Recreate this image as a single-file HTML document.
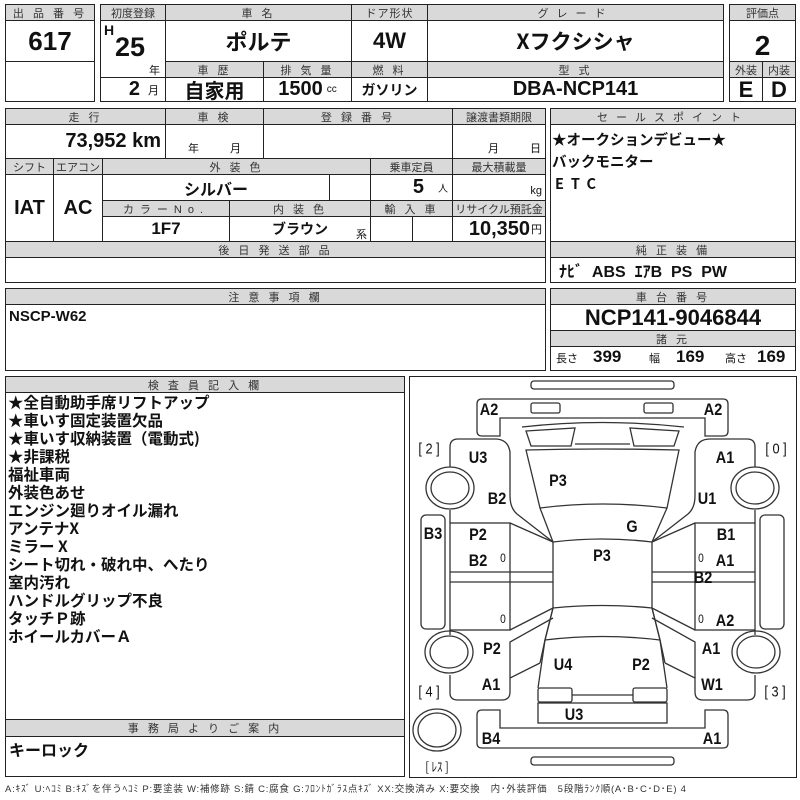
<!DOCTYPE html>
<html><head><meta charset="utf-8">
<style>
body{margin:0;background:#fff;width:800px;height:800px;position:relative;overflow:hidden;font-family:"Liberation Sans","Noto Sans CJK JP",sans-serif;color:#111}
.c{position:absolute;box-sizing:border-box;border:1px solid #222;display:flex;align-items:center;justify-content:center;white-space:nowrap}
.h{background:#d9d9d9;font-size:11px;color:#333;letter-spacing:3px}
.v{font-weight:bold;font-size:20px;font-family:"Liberation Sans Narrow","Liberation Sans","Noto Sans CJK JP",sans-serif}
.t{position:absolute;white-space:nowrap;font-family:"Liberation Sans","Noto Sans CJK JP",sans-serif}
.s{font-size:10px;font-weight:normal;margin-left:4px}
.lab{position:absolute;font-weight:bold;font-size:17px;transform:translate(-50%,-50%) scaleX(0.85);white-space:nowrap;font-family:"Liberation Sans Narrow","Liberation Sans",sans-serif}
.ins{position:absolute;left:8px;font-weight:bold;font-size:15.5px;font-family:"Noto Sans CJK JP",sans-serif;line-height:18px;white-space:nowrap}
</style></head><body>

<div class="c h" style="left:5px;top:4px;width:90px;height:17px">出 品 番 号</div>
<div class="c v" style="left:5px;top:20px;width:90px;height:42px;font-size:26px">617</div>
<div class="c" style="left:5px;top:61px;width:90px;height:41px"></div>

<div class="c h" style="left:100px;top:4px;width:66px;height:17px;letter-spacing:0">初度登録</div>
<div class="c h" style="left:165px;top:4px;width:187px;height:17px">車 名</div>
<div class="c h" style="left:351px;top:4px;width:77px;height:17px;letter-spacing:1px">ドア形状</div>
<div class="c h" style="left:427px;top:4px;width:297px;height:17px;letter-spacing:8px">グレード</div>
<div class="c v" style="left:100px;top:20px;width:66px;height:58px"></div>
<div class="t" style="left:104px;top:22px;font-weight:bold;font-size:14px">H</div>
<div class="t" style="left:115px;top:32px;font-weight:bold;font-size:27px;font-family:'Liberation Sans Narrow','Liberation Sans',sans-serif">25</div>
<div class="t" style="left:149px;top:62px;font-size:11px">年</div>
<div class="c v" style="left:100px;top:77px;width:66px;height:25px;justify-content:flex-end;padding-right:6px">2<span class="s" style="font-size:11px;margin-left:8px">月</span></div>
<div class="c v" style="left:165px;top:20px;width:187px;height:42px;font-family:'Noto Sans CJK JP',sans-serif;font-size:22px">ポルテ</div>
<div class="c v" style="left:351px;top:20px;width:77px;height:42px;font-size:22px">4W</div>
<div class="c v" style="left:427px;top:20px;width:297px;height:42px;font-family:'Noto Sans CJK JP',sans-serif;font-size:21px">Xフクシシャ</div>
<div class="c h" style="left:165px;top:61px;width:99px;height:17px">車 歴</div>
<div class="c h" style="left:263px;top:61px;width:89px;height:17px">排 気 量</div>
<div class="c h" style="left:351px;top:61px;width:77px;height:17px">燃 料</div>
<div class="c h" style="left:427px;top:61px;width:297px;height:17px">型 式</div>
<div class="c v" style="left:165px;top:77px;width:99px;height:25px;font-family:'Noto Sans CJK JP',sans-serif;font-size:20px">自家用</div>
<div class="c v" style="left:263px;top:77px;width:89px;height:25px">1500<span class="s">cc</span></div>
<div class="c v" style="left:351px;top:77px;width:77px;height:25px;font-family:'Noto Sans CJK JP',sans-serif;font-size:14px">ガソリン</div>
<div class="c v" style="left:427px;top:77px;width:297px;height:25px">DBA-NCP141</div>
<div class="c h" style="left:729px;top:4px;width:67px;height:17px;letter-spacing:0">評価点</div>
<div class="c v" style="left:729px;top:20px;width:67px;height:42px;font-size:28px;padding-top:10px">2</div>
<div class="c h" style="left:729px;top:61px;width:34px;height:17px;letter-spacing:0">外装</div>
<div class="c h" style="left:762px;top:61px;width:34px;height:17px;letter-spacing:0">内装</div>
<div class="c v" style="left:729px;top:77px;width:34px;height:25px;font-size:22px">E</div>
<div class="c v" style="left:762px;top:77px;width:34px;height:25px;font-size:22px">D</div>

<div class="c h" style="left:5px;top:108px;width:161px;height:17px">走 行</div>
<div class="c h" style="left:165px;top:108px;width:99px;height:17px">車 検</div>
<div class="c h" style="left:263px;top:108px;width:190px;height:17px">登 録 番 号</div>
<div class="c h" style="left:452px;top:108px;width:94px;height:17px;letter-spacing:0">譲渡書類期限</div>
<div class="c v" style="left:5px;top:124px;width:161px;height:35px;justify-content:flex-end;padding-right:4px">73,952 km</div>
<div class="c" style="left:165px;top:124px;width:99px;height:35px;align-items:flex-end;font-size:11px;padding-bottom:2px;word-spacing:28px">年 月</div>
<div class="c" style="left:263px;top:124px;width:190px;height:35px"></div>
<div class="c" style="left:452px;top:124px;width:94px;height:35px;align-items:flex-end;justify-content:flex-end;font-size:11px;padding:0 4px 2px 0;word-spacing:28px">月 日</div>
<div class="c h" style="left:5px;top:158px;width:49px;height:17px;letter-spacing:0">シフト</div>
<div class="c h" style="left:53px;top:158px;width:50px;height:17px;letter-spacing:0">エアコン</div>
<div class="c h" style="left:102px;top:158px;width:269px;height:17px">外 装 色</div>
<div class="c h" style="left:370px;top:158px;width:83px;height:17px;letter-spacing:0">乗車定員</div>
<div class="c h" style="left:452px;top:158px;width:94px;height:17px;letter-spacing:0">最大積載量</div>
<div class="c v" style="left:5px;top:174px;width:49px;height:68px">IAT</div>
<div class="c v" style="left:53px;top:174px;width:50px;height:68px">AC</div>
<div class="c v" style="left:102px;top:174px;width:228px;height:27px;font-family:'Noto Sans CJK JP',sans-serif;font-size:16px">シルバー</div>
<div class="c" style="left:329px;top:174px;width:42px;height:27px"></div>
<div class="c v" style="left:370px;top:174px;width:83px;height:27px;justify-content:flex-end;padding-right:4px">5<span class="s" style="margin-left:14px">人</span></div>
<div class="c" style="left:452px;top:174px;width:94px;height:27px;justify-content:flex-end;align-items:flex-end;font-size:11px;padding:0 3px 3px 0">kg</div>
<div class="c h" style="left:102px;top:200px;width:128px;height:17px;letter-spacing:6px">カラーNo.</div>
<div class="c h" style="left:229px;top:200px;width:142px;height:17px">内 装 色</div>
<div class="c h" style="left:370px;top:200px;width:83px;height:17px">輸 入 車</div>
<div class="c h" style="left:452px;top:200px;width:94px;height:17px;letter-spacing:0">リサイクル預託金</div>
<div class="c v" style="left:102px;top:216px;width:128px;height:26px;font-size:17px">1F7</div>
<div class="c v" style="left:229px;top:216px;width:142px;height:26px;font-family:'Noto Sans CJK JP',sans-serif;font-size:14px">ブラウン</div>
<div class="t" style="left:356px;top:226px;font-size:11px">系</div>
<div class="c" style="left:370px;top:216px;width:43px;height:26px"></div>
<div class="c" style="left:412px;top:216px;width:41px;height:26px"></div>
<div class="c v" style="left:452px;top:216px;width:94px;height:26px;justify-content:flex-end;padding-right:3px">10,350<span class="s" style="font-size:11px;margin-left:1px">円</span></div>
<div class="c h" style="left:5px;top:241px;width:541px;height:17px">後 日 発 送 部 品</div>
<div class="c" style="left:5px;top:257px;width:541px;height:26px"></div>

<div class="c h" style="left:550px;top:108px;width:246px;height:17px;letter-spacing:8px">セールスポイント</div>
<div class="c" style="left:550px;top:124px;width:246px;height:118px"></div>
<div class="t" style="left:552px;top:129px;font-weight:bold;font-size:14.5px;line-height:22px;font-family:'Noto Sans CJK JP',sans-serif">★オークションデビュー★<br>バックモニター<br><span style="letter-spacing:7px;margin-left:3px">ETC</span></div>
<div class="c h" style="left:550px;top:241px;width:246px;height:17px">純 正 装 備</div>
<div class="c v" style="left:550px;top:257px;width:246px;height:26px;justify-content:flex-start;padding-left:8px;font-size:16px;font-family:'Liberation Sans Narrow','Liberation Sans','Noto Sans CJK JP',sans-serif">ﾅﾋﾞ&nbsp; ABS&nbsp; ｴｱB&nbsp; PS&nbsp; PW</div>

<div class="c h" style="left:5px;top:288px;width:541px;height:17px">注 意 事 項 欄</div>
<div class="c" style="left:5px;top:304px;width:541px;height:67px"></div>
<div class="t" style="left:9px;top:308px;font-weight:bold;font-size:15px;font-family:'Liberation Sans Narrow','Liberation Sans',sans-serif">NSCP-W62</div>

<div class="c h" style="left:550px;top:288px;width:246px;height:17px">車 台 番 号</div>
<div class="c v" style="left:550px;top:304px;width:246px;height:27px;font-size:22px">NCP141-9046844</div>
<div class="c h" style="left:550px;top:330px;width:246px;height:17px">諸 元</div>
<div class="c" style="left:550px;top:346px;width:246px;height:25px"></div>
<div class="t" style="left:556px;top:350px;font-size:11px">長さ</div>
<div class="t" style="left:593px;top:347px;font-weight:bold;font-size:17px">399</div>
<div class="t" style="left:649px;top:350px;font-size:11px">幅</div>
<div class="t" style="left:676px;top:347px;font-weight:bold;font-size:17px">169</div>
<div class="t" style="left:725px;top:350px;font-size:11px">高さ</div>
<div class="t" style="left:757px;top:347px;font-weight:bold;font-size:17px">169</div>

<div class="c h" style="left:5px;top:376px;width:400px;height:17px">検 査 員 記 入 欄</div>
<div class="c" style="left:5px;top:392px;width:400px;height:328px"></div>
<div class="ins" style="top:393px">★全自動助手席リフトアップ<br>★車いす固定装置欠品<br>★車いす収納装置（電動式)<br>★非課税<br>福祉車両<br>外装色あせ<br>エンジン廻りオイル漏れ<br>アンテナX<br>ミラー X<br>シート切れ・破れ中、へたり<br>室内汚れ<br>ハンドルグリップ不良<br>タッチＰ跡<br>ホイールカバーＡ</div>
<div class="c h" style="left:5px;top:719px;width:400px;height:18px">事 務 局 よ り ご 案 内</div>
<div class="c" style="left:5px;top:736px;width:400px;height:41px"></div>
<div class="t" style="left:9px;top:737px;font-weight:bold;font-size:16px;font-family:'Noto Sans CJK JP',sans-serif">キーロック</div>

<div class="t" style="left:5px;top:781px;font-size:9.5px;letter-spacing:0.75px;color:#333;font-family:'Liberation Sans','Noto Sans CJK JP',sans-serif">A:ｷｽﾞ U:ﾍｺﾐ B:ｷｽﾞを伴うﾍｺﾐ P:要塗装 W:補修跡 S:錆 C:腐食 G:ﾌﾛﾝﾄｶﾞﾗｽ点ｷｽﾞ XX:交換済み X:要交換　内･外装評価　5段階ﾗﾝｸ順(A･B･C･D･E) 4</div>

<div class="c" style="left:409px;top:376px;width:388px;height:402px"></div>
<svg width="800" height="800" style="position:absolute;left:0;top:0" fill="none" stroke="#333" stroke-width="1.3">
<rect x="531" y="381" width="143" height="8" rx="3"/>
<rect x="531" y="757" width="143" height="8" rx="3"/>
<path d="M482,399 H723 Q728,399 728,404 V431 Q728,436 723,436 H705 V418 H500 V436 H482 Q477,436 477,431 V404 Q477,399 482,399Z"/>
<rect x="531" y="403" width="29" height="10" rx="2"/>
<rect x="644" y="403" width="29" height="10" rx="2"/>
<path d="M482,748 H723 Q728,748 728,743 V715 Q728,710 723,710 H705 V728 H500 V710 H482 Q477,710 477,715 V743 Q477,748 482,748Z"/>
<g id="half">
<path d="M553,542 L517,514 Q510,508 510,496 L510,452 Q508,439 495,439 L458,439 Q450,439 450,447 L450,467"/>
<path d="M450,510 L450,523"/>
<rect x="450" y="523" width="60" height="107"/>
<path d="M450,572 H553 M450,582 H553"/>
<path d="M510,523 L553,542 M510,630 L553,608"/>
<path d="M450,675 L450,693 Q450,700 458,700 L502,700 Q510,700 510,692 L510,678 L540,663"/>
<path d="M450,630 L450,635"/>
<path d="M510,678 L510,642 L553,618"/>
<path d="M540,663 L545,640 L553,608"/>
<rect x="421" y="515" width="24" height="114" rx="5"/>
<ellipse cx="450" cy="488" rx="24" ry="21"/><ellipse cx="450" cy="488" rx="19" ry="16"/>
<ellipse cx="449" cy="652" rx="24" ry="21"/><ellipse cx="449" cy="652" rx="19" ry="16"/>
<path d="M526,431 L575,428 L571,446 L531,446 Z"/>
<rect x="538" y="688" width="34" height="14" rx="2"/>
</g>
<use href="#half" transform="translate(1205,0) scale(-1,1)"/>
<ellipse cx="437" cy="730" rx="24" ry="21"/><ellipse cx="437" cy="730" rx="19" ry="17"/>
<path d="M522,427 Q602,418 684,427"/>
<path d="M575,444 H630"/>
<path d="M526,450 Q602,448 679,450 L667,508 Q602,500 540,508 Z"/>
<path d="M540,508 L553,542 Q602,536 652,542 L667,508"/>
<path d="M553,542 V608 Q602,603 652,608 V542"/>
<path d="M553,608 L545,640 Q602,633 660,640 L652,608"/>
<path d="M545,640 L538,688 M660,640 L667,688"/>
<path d="M572,695 H633"/>
<rect x="538" y="703" width="129" height="20"/>
</svg>
<div class="lab" style="left:489px;top:410px">A2</div>
<div class="lab" style="left:713px;top:410px">A2</div>
<div class="lab" style="left:429px;top:449px;font-weight:normal;font-size:15px">[ 2 ]</div>
<div class="lab" style="left:776px;top:449px;font-weight:normal;font-size:15px">[ 0 ]</div>
<div class="lab" style="left:478px;top:458px">U3</div>
<div class="lab" style="left:725px;top:458px">A1</div>
<div class="lab" style="left:558px;top:481px">P3</div>
<div class="lab" style="left:497px;top:499px">B2</div>
<div class="lab" style="left:707px;top:499px">U1</div>
<div class="lab" style="left:632px;top:527px">G</div>
<div class="lab" style="left:433px;top:534px">B3</div>
<div class="lab" style="left:478px;top:535px">P2</div>
<div class="lab" style="left:726px;top:535px">B1</div>
<div class="lab" style="left:602px;top:556px">P3</div>
<div class="lab" style="left:478px;top:561px">B2</div>
<div class="lab" style="left:725px;top:561px">A1</div>
<div class="lab" style="left:503px;top:558px;font-size:12px;font-weight:normal">0</div>
<div class="lab" style="left:701px;top:558px;font-size:12px;font-weight:normal">0</div>
<div class="lab" style="left:703px;top:578px">B2</div>
<div class="lab" style="left:503px;top:619px;font-size:12px;font-weight:normal">0</div>
<div class="lab" style="left:701px;top:619px;font-size:12px;font-weight:normal">0</div>
<div class="lab" style="left:725px;top:621px">A2</div>
<div class="lab" style="left:492px;top:649px">P2</div>
<div class="lab" style="left:711px;top:649px">A1</div>
<div class="lab" style="left:563px;top:665px">U4</div>
<div class="lab" style="left:641px;top:665px">P2</div>
<div class="lab" style="left:429px;top:692px;font-weight:normal;font-size:15px">[ 4 ]</div>
<div class="lab" style="left:491px;top:685px">A1</div>
<div class="lab" style="left:712px;top:685px">W1</div>
<div class="lab" style="left:775px;top:692px;font-weight:normal;font-size:15px">[ 3 ]</div>
<div class="lab" style="left:574px;top:715px">U3</div>
<div class="lab" style="left:491px;top:739px">B4</div>
<div class="lab" style="left:712px;top:739px">A1</div>
<div class="lab" style="left:437px;top:766px;font-weight:normal;font-size:13px;font-family:'Noto Sans CJK JP',sans-serif">[ ﾚｽ ]</div>
</body></html>
